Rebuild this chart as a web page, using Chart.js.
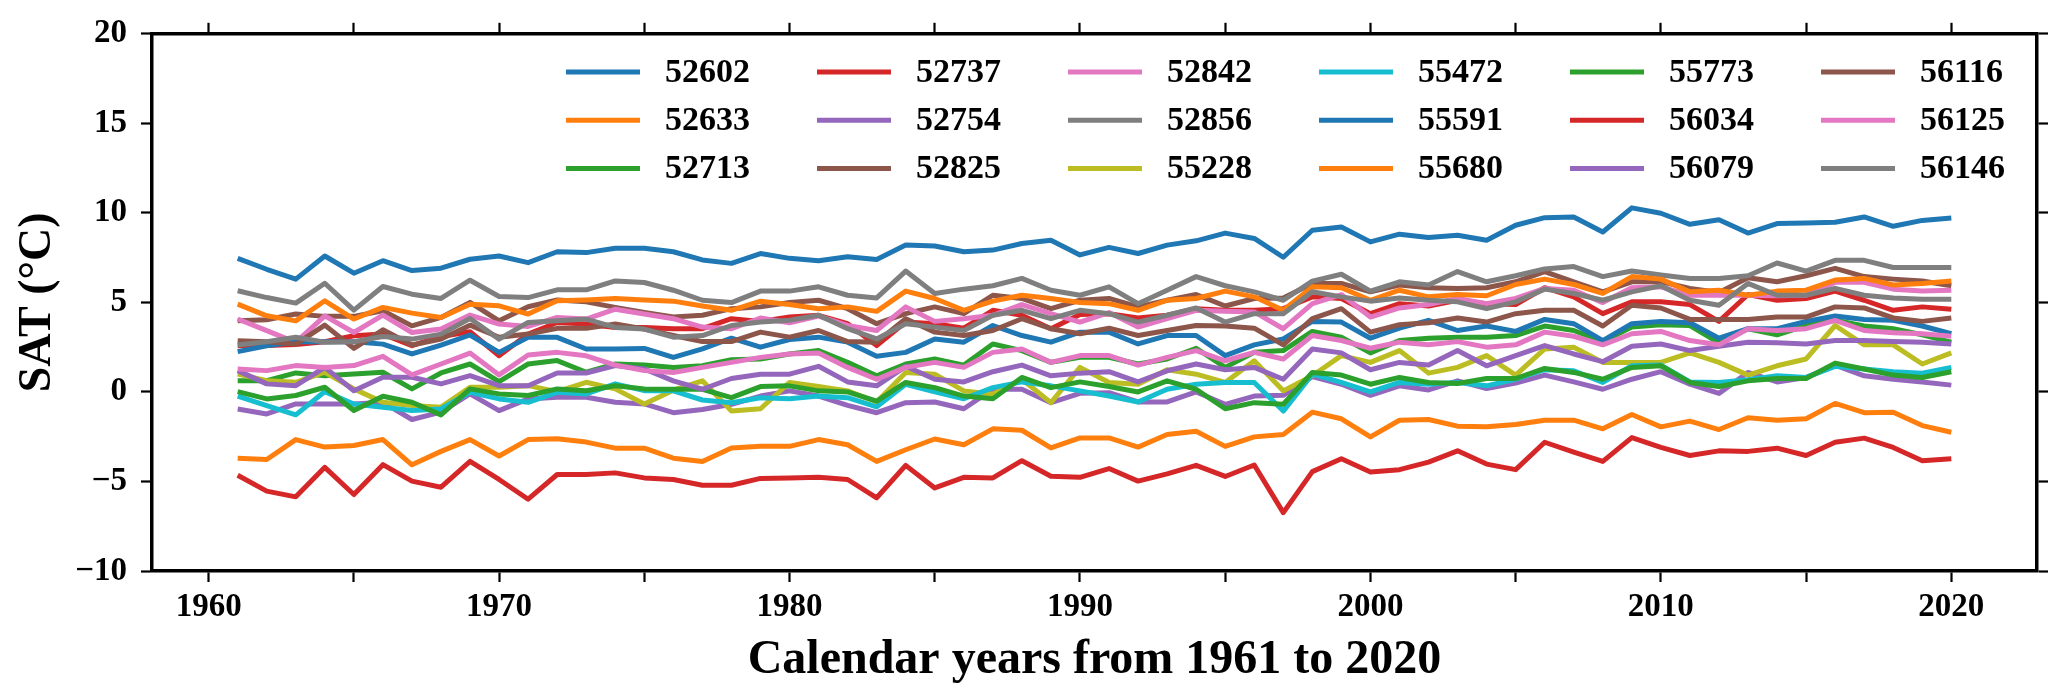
<!DOCTYPE html>
<html>
<head>
<meta charset="utf-8">
<script src="https://cdn.jsdelivr.net/npm/chart.js@4.4.1/dist/chart.umd.min.js"></script>
<style>
  html, body { margin: 0; padding: 0; background: #fff; }
  canvas { display: block; }
</style>
</head>
<body>
<canvas id="sat" width="2067" height="700"></canvas>
<script>
// calendar years 1961-2020
const years = [
  1961, 1962, 1963, 1964, 1965, 1966, 1967, 1968, 1969, 1970,
  1971, 1972, 1973, 1974, 1975, 1976, 1977, 1978, 1979, 1980,
  1981, 1982, 1983, 1984, 1985, 1986, 1987, 1988, 1989, 1990,
  1991, 1992, 1993, 1994, 1995, 1996, 1997, 1998, 1999, 2000,
  2001, 2002, 2003, 2004, 2005, 2006, 2007, 2008, 2009, 2010,
  2011, 2012, 2013, 2014, 2015, 2016, 2017, 2018, 2019, 2020
];

const xTickValues = [1960, 1965, 1970, 1975, 1980, 1985, 1990, 1995, 2000, 2005, 2010, 2015, 2020];
const yTickValues = [-10, -5, 0, 5, 10, 15, 20];

const stations = [
  "52602", "52633", "52713", "52737", "52754", "52825",
  "52842", "52856", "55228", "55472", "55591", "55680",
  "55773", "56034", "56079", "56116", "56125", "56146"
];

// annual mean SAT (°C), one array per station
const s52602 = [7.46, 6.85, 6.3, 7.59, 6.63, 7.33, 6.78, 6.91, 7.41, 7.59, 7.22, 7.83, 7.78, 8.02, 8.02,
  7.83, 7.37, 7.18, 7.73, 7.46, 7.33, 7.55, 7.4, 8.2, 8.15, 7.83, 7.92, 8.29, 8.47, 7.65, 8.07,
  7.73, 8.2, 8.44, 8.87, 8.57, 7.52, 9.03, 9.21, 8.38, 8.81, 8.62, 8.75, 8.47, 9.31,
  9.73, 9.77, 8.93, 10.28, 9.98, 9.36, 9.62, 8.87, 9.4, 9.43, 9.48, 9.77, 9.25, 9.58, 9.71];
const s52633 = [-3.7, -3.77, -2.66, -3.08, -2.99, -2.66, -4.07, -3.32, -2.66, -3.58, -2.66, -2.62, -2.8, -3.14, -3.14,
  -3.7, -3.88, -3.13, -3.04, -3.04, -2.66, -2.95, -3.88, -3.23, -2.63, -2.95, -2.06, -2.14, -3.13, -2.57, -2.57,
  -3.08, -2.38, -2.2, -3.04, -2.51, -2.38, -1.13, -1.5, -2.51, -1.58, -1.54, -1.91, -1.95, -1.82,
  -1.58, -1.58, -2.06, -1.26, -1.95, -1.63, -2.1, -1.44, -1.58, -1.5, -0.64, -1.16, -1.13, -1.88, -2.25];
const s52713 = [0.63, 0.63, 1.06, 0.91, 1.0, 1.1, 0.17, 1.06, 1.56, 0.58, 1.56, 1.75, 1.1, 1.56, 1.5,
  1.37, 1.46, 1.8, 1.84, 2.12, 2.31, 1.65, 0.9, 1.56, 1.84, 1.5, 2.68, 2.31, 1.65, 1.93, 1.93,
  1.56, 1.84, 2.44, 1.37, 2.21, 2.31, 3.38, 3.06, 2.18, 2.87, 3.0, 3.06, 3.06, 3.15,
  3.68, 3.43, 2.81, 3.62, 3.75, 3.71, 2.74, 3.53, 3.19, 3.71, 4.0, 3.68, 3.53, 3.19, 2.78];
const s52737 = [2.58, 2.6, 2.65, 2.8, 3.14, 3.23, 2.58, 3.1, 3.36, 2.02, 3.23, 3.88, 3.79, 3.6, 3.6,
  3.53, 3.53, 4.09, 3.94, 4.18, 4.28, 3.81, 2.59, 3.9, 3.81, 3.56, 4.56, 4.28, 3.53, 4.32, 4.37,
  4.13, 4.28, 4.65, 4.56, 4.56, 4.65, 5.31, 5.22, 4.37, 4.93, 4.8, 5.12, 4.93, 4.88,
  5.82, 5.31, 4.37, 5.03, 5.03, 4.88, 3.94, 5.44, 5.12, 5.22, 5.63, 5.12, 4.56, 4.75, 4.62];
const s52754 = [-0.95, -1.23, -0.67, -0.67, -0.67, -0.58, -1.54, -1.13, -0.11, -1.04, -0.39, -0.3, -0.3, -0.58, -0.67,
  -1.16, -0.98, -0.69, -0.23, 0.06, -0.23, -0.75, -1.16, -0.6, -0.56, -0.94, 0.15, 0.15, -0.6, -0.08, -0.04,
  -0.56, -0.56, 0.0, -0.69, -0.23, -0.19, 0.86, 0.43, -0.19, 0.34, 0.11, 0.62, 0.19, 0.49,
  0.94, 0.56, 0.15, 0.71, 1.13, 0.43, -0.08, 1.09, 0.56, 0.81, 1.5, 0.9, 0.71, 0.56, 0.38];
const s52825 = [3.97, 4.03, 4.35, 4.22, 4.22, 4.53, 3.69, 4.16, 5.0, 3.97, 4.76, 5.14, 5.03, 4.72, 4.44,
  4.18, 4.28, 4.65, 4.75, 4.99, 5.12, 4.65, 3.81, 4.37, 4.75, 4.37, 5.4, 5.22, 4.65, 5.12, 5.22,
  4.75, 5.12, 5.44, 4.8, 5.22, 5.25, 6.06, 6.06, 5.59, 5.97, 5.82, 5.78, 5.82, 6.15,
  6.72, 6.15, 5.59, 6.15, 6.15, 5.78, 5.55, 6.38, 6.15, 6.49, 6.9, 6.44, 6.3, 6.19, 5.93];
const s52842 = [4.07, 3.42, 2.77, 4.25, 3.32, 4.29, 3.32, 3.51, 4.29, 3.79, 3.66, 4.16, 4.07, 4.62, 4.35,
  4.09, 3.62, 3.53, 4.13, 3.86, 4.24, 3.71, 3.43, 4.75, 3.94, 4.09, 4.28, 4.88, 4.37, 3.9, 4.43,
  3.62, 4.09, 4.56, 4.5, 4.47, 3.53, 4.93, 5.44, 4.18, 4.69, 4.88, 5.22, 4.93, 5.22,
  5.78, 5.68, 4.99, 5.82, 5.87, 5.4, 5.4, 5.4, 5.37, 5.4, 6.12, 6.12, 5.74, 5.63, 5.68];
const s52856 = [5.65, 5.27, 4.96, 6.07, 4.57, 5.89, 5.46, 5.22, 6.24, 5.33, 5.27, 5.7, 5.7, 6.2, 6.11,
  5.68, 5.12, 4.99, 5.63, 5.63, 5.87, 5.4, 5.25, 6.75, 5.5, 5.74, 5.93, 6.34, 5.68, 5.4, 5.87,
  4.93, 5.68, 6.44, 5.93, 5.59, 5.12, 6.19, 6.57, 5.63, 6.15, 5.97, 6.72, 6.15, 6.49,
  6.87, 7.0, 6.44, 6.75, 6.53, 6.34, 6.34, 6.49, 7.2, 6.75, 7.35, 7.35, 6.95, 6.95, 6.95];
const s55228 = [1.0, 0.63, 0.54, 1.1, 0.17, -0.58, -0.76, -0.85, 0.26, 0.26, 0.35, 0.02, 0.54, 0.17, -0.67,
  0.1, 0.62, -1.07, -0.94, 0.53, 0.3, 0.06, -0.56, 1.09, 0.99, 0.06, -0.13, 0.71, -0.6, 1.37, 0.53,
  0.43, 1.24, 0.99, 0.53, 1.74, 0.06, 0.9, 2.03, 1.65, 2.31, 1.05, 1.37, 2.03, 0.94,
  2.4, 2.5, 1.65, 1.65, 1.65, 2.18, 1.65, 0.94, 1.46, 1.84, 3.71, 2.63, 2.63, 1.56, 2.18];
const s55472 = [-0.24, -0.76, -1.28, 0.02, -0.67, -0.85, -1.04, -0.95, -0.02, -0.39, -0.58, -0.02, -0.11, 0.45, 0.07,
  0.06, -0.45, -0.6, -0.32, -0.38, -0.23, -0.32, -0.83, 0.43, 0.0, -0.38, 0.24, 0.56, 0.34, 0.06, -0.23,
  -0.56, 0.15, 0.43, 0.53, 0.53, -1.07, 0.99, 0.53, 0.0, 0.53, 0.43, 0.53, 0.34, 0.71,
  1.24, 1.18, 0.53, 1.46, 1.5, 0.56, 0.53, 0.68, 0.9, 0.81, 1.43, 1.28, 1.13, 1.05, 1.37];
const s55591 = [2.25, 2.58, 2.8, 2.8, 2.8, 2.67, 2.12, 2.62, 3.18, 2.21, 3.05, 3.05, 2.4, 2.4, 2.43,
  1.93, 2.4, 3.0, 2.5, 2.93, 3.06, 2.78, 1.99, 2.21, 2.96, 2.78, 3.71, 3.15, 2.78, 3.34, 3.34,
  2.68, 3.15, 3.15, 2.03, 2.63, 2.96, 3.94, 3.9, 3.0, 3.56, 4.0, 3.43, 3.68, 3.38,
  4.05, 3.81, 2.87, 3.81, 3.94, 3.86, 3.0, 3.53, 3.53, 3.94, 4.24, 4.05, 4.0, 3.68, 3.25];
const s55680 = [4.9, 4.25, 3.97, 5.09, 4.07, 4.72, 4.4, 4.16, 4.9, 4.81, 4.35, 5.09, 5.14, 5.22, 5.14,
  5.07, 4.8, 4.56, 5.07, 4.88, 4.65, 4.75, 4.5, 5.63, 5.22, 4.56, 5.07, 5.4, 5.22, 4.99, 4.93,
  4.56, 5.12, 5.22, 5.63, 5.31, 4.56, 5.87, 5.82, 5.12, 5.68, 5.31, 5.44, 5.37, 6.0,
  6.3, 6.0, 5.5, 6.44, 6.3, 5.59, 5.68, 5.4, 5.63, 5.68, 6.25, 6.34, 5.97, 6.06, 6.19];
const s55773 = [0.02, -0.39, -0.2, 0.26, -1.04, -0.24, -0.58, -1.28, 0.17, -0.11, -0.2, 0.17, 0.07, 0.35, 0.17,
  0.15, 0.15, -0.32, 0.3, 0.34, 0.06, 0.0, -0.51, 0.53, 0.24, -0.23, -0.38, 0.81, 0.24, 0.56, 0.3,
  0.0, 0.62, 0.15, -0.94, -0.6, -0.69, 1.09, 0.94, 0.43, 0.81, 0.53, 0.47, 0.75, 0.75,
  1.31, 1.09, 0.71, 1.37, 1.46, 0.53, 0.3, 0.62, 0.75, 0.75, 1.61, 1.28, 0.94, 0.81, 1.13];
const s56034 = [-4.65, -5.54, -5.86, -4.21, -5.73, -4.06, -4.98, -5.32, -3.88, -4.89, -5.99, -4.61, -4.61, -4.52, -4.8,
  -4.89, -5.21, -5.21, -4.83, -4.8, -4.77, -4.89, -5.91, -4.1, -5.36, -4.77, -4.8, -3.84, -4.71, -4.77, -4.28,
  -4.98, -4.58, -4.1, -4.72, -4.08, -6.74, -4.45, -3.73, -4.47, -4.34, -3.92, -3.29, -4.03, -4.34,
  -2.81, -3.36, -3.88, -2.55, -3.1, -3.55, -3.29, -3.32, -3.14, -3.55, -2.81, -2.58, -3.1, -3.84, -3.73];
const s56079 = [1.19, 0.45, 0.35, 1.37, 0.07, 0.82, 0.82, 0.45, 0.91, 0.35, 0.35, 1.06, 1.06, 1.47, 1.28,
  0.62, 0.15, 0.75, 0.99, 0.99, 1.43, 0.56, 0.34, 1.43, 0.71, 0.56, 1.13, 1.5, 0.9, 1.05, 1.13,
  0.56, 1.18, 1.56, 1.24, 1.37, 0.71, 2.4, 2.18, 1.24, 1.65, 1.5, 2.31, 1.46, 2.03,
  2.59, 2.12, 1.69, 2.55, 2.68, 2.31, 2.55, 2.78, 2.74, 2.68, 2.87, 2.87, 2.81, 2.78, 2.68];
const s56116 = [2.86, 2.8, 2.67, 3.73, 2.43, 3.47, 2.62, 2.95, 3.73, 3.05, 3.23, 3.55, 3.55, 3.79, 3.51,
  3.15, 2.81, 2.81, 3.34, 3.06, 3.43, 2.81, 2.78, 4.09, 3.34, 3.15, 3.43, 4.09, 3.53, 3.25, 3.56,
  3.15, 3.43, 3.71, 3.68, 3.56, 2.63, 4.09, 4.65, 3.34, 3.75, 3.86, 4.13, 3.9, 4.37,
  4.56, 4.56, 3.68, 4.84, 4.69, 4.05, 4.05, 4.05, 4.18, 4.18, 4.75, 4.69, 4.13, 3.94, 4.13];
const s56125 = [1.28, 1.19, 1.47, 1.37, 1.47, 1.99, 0.95, 1.56, 2.17, 0.95, 2.06, 2.21, 2.02, 1.5, 1.19,
  1.09, 1.37, 1.65, 1.93, 2.12, 2.18, 1.37, 0.71, 1.37, 1.65, 1.37, 2.21, 2.4, 1.65, 2.03, 2.03,
  1.5, 1.93, 2.31, 1.74, 2.21, 1.84, 3.15, 2.87, 2.44, 2.78, 2.63, 2.81, 2.5, 2.63,
  3.34, 3.11, 2.63, 3.25, 3.38, 2.87, 2.63, 3.53, 3.43, 3.53, 4.0, 3.43, 3.3, 3.25, 3.11];
const s56146 = [2.62, 2.8, 3.05, 2.77, 2.8, 3.1, 2.95, 3.23, 4.1, 2.95, 3.88, 3.97, 4.07, 3.6, 3.51,
  3.06, 3.15, 3.71, 3.9, 4.0, 4.28, 3.53, 2.96, 3.81, 3.62, 3.43, 4.28, 4.56, 4.09, 4.56, 4.37,
  3.9, 4.28, 4.69, 3.9, 4.37, 4.37, 5.59, 5.31, 5.07, 5.25, 5.12, 5.03, 4.65, 5.03,
  5.74, 5.5, 5.12, 5.59, 5.93, 5.12, 4.84, 6.06, 5.4, 5.4, 5.78, 5.4, 5.25, 5.18, 5.18];

const seriesValues = [s52602, s52633, s52713, s52737, s52754, s52825, s52842, s52856, s55228,
  s55472, s55591, s55680, s55773, s56034, s56079, s56116, s56125, s56146];

// matplotlib tab10 cycle
const palette = ["#1f77b4", "#ff7f0e", "#2ca02c", "#d62728", "#9467bd",
                 "#8c564b", "#e377c2", "#7f7f7f", "#bcbd22", "#17becf"];

const FONT = '"Liberation Serif", "Times New Roman", Times, serif';
Chart.defaults.font.family = FONT;
Chart.defaults.color = "#000";

const datasets = stations.map((name, i) => ({
  label: name,
  data: years.map((yr, k) => ({ x: yr, y: seriesValues[i][k] })),
  borderColor: palette[i % palette.length],
  backgroundColor: palette[i % palette.length],
  borderWidth: 5,
  pointRadius: 0,
  tension: 0,
  fill: false,
  borderJoinStyle: "round",
  order: -i
}));

// legend in 3 rows x 6 columns, filled column by column
const gridLegend = {
  id: "gridLegend",
  afterDraw(chart) {
    const ctx = chart.ctx;
    ctx.save();
    ctx.font = "bold 34px " + FONT;
    ctx.textBaseline = "middle";
    ctx.textAlign = "left";
    chart.data.datasets.forEach((ds, i) => {
      const col = Math.floor(i / 3);
      const row = i % 3;
      const x = 566 + col * 251;
      const y = 72 + row * 48.3;
      ctx.strokeStyle = ds.borderColor;
      ctx.lineWidth = 5;
      ctx.beginPath();
      ctx.moveTo(x, y);
      ctx.lineTo(x + 74, y);
      ctx.stroke();
      ctx.fillStyle = "#000";
      ctx.fillText(ds.label, x + 99, y + 1);
    });
    ctx.restore();
  }
};

const tickFont = { size: 33, weight: "bold" };
const gridOpts = { drawOnChartArea: false, drawTicks: true, tickLength: 11, tickWidth: 2.2, tickColor: "#000" };
const borderOpts = { display: true, color: "#000", width: 3.5 };
const minus = v => (v < 0 ? "\u2212" + Math.abs(v) : String(v));

new Chart(document.getElementById("sat"), {
  type: "line",
  data: { datasets },
  plugins: [gridLegend],
  options: {
    responsive: false,
    animation: false,
    devicePixelRatio: 1,
    layout: { padding: 0 },
    plugins: {
      legend: { display: false },
      tooltip: { enabled: false }
    },
    scales: {
      x: {
        type: "linear",
        position: "bottom",
        min: 1958.05,
        max: 2022.95,
        afterBuildTicks: s => { s.ticks = xTickValues.map(v => ({ value: v })); },
        afterFit: s => { s.height = 129; },
        ticks: {
          autoSkip: false,
          maxRotation: 0,
          padding: 6,
          font: tickFont,
          callback: v => (v % 10 === 0 ? String(v) : "")
        },
        grid: gridOpts,
        border: borderOpts,
        title: {
          display: true,
          text: "Calendar years from 1961 to 2020",
          font: { size: 48, weight: "bold" },
          padding: { top: 0, bottom: 11 }
        }
      },
      x2: {
        type: "linear",
        position: "top",
        min: 1958.05,
        max: 2022.95,
        afterBuildTicks: s => { s.ticks = xTickValues.map(v => ({ value: v })); },
        afterFit: s => { s.height = 29; },
        ticks: { autoSkip: false, maxRotation: 0, callback: () => "" },
        grid: gridOpts,
        border: borderOpts
      },
      y: {
        type: "linear",
        position: "left",
        min: -10,
        max: 20,
        afterBuildTicks: s => { s.ticks = yTickValues.map(v => ({ value: v })); },
        afterFit: s => { s.width = 152; },
        ticks: {
          autoSkip: false,
          padding: 14,
          font: tickFont,
          callback: v => minus(v)
        },
        grid: gridOpts,
        border: borderOpts,
        title: {
          display: true,
          text: "SAT (°C)",
          font: { size: 46, weight: "bold" },
          padding: { top: 11, bottom: 0 }
        }
      },
      y2: {
        type: "linear",
        position: "right",
        min: -10,
        max: 20,
        afterBuildTicks: s => { s.ticks = yTickValues.map(v => ({ value: v })); },
        afterFit: s => { s.width = 30; },
        ticks: { autoSkip: false, callback: () => "" },
        grid: gridOpts,
        border: borderOpts
      }
    }
  }
});
</script>
</body>
</html>
